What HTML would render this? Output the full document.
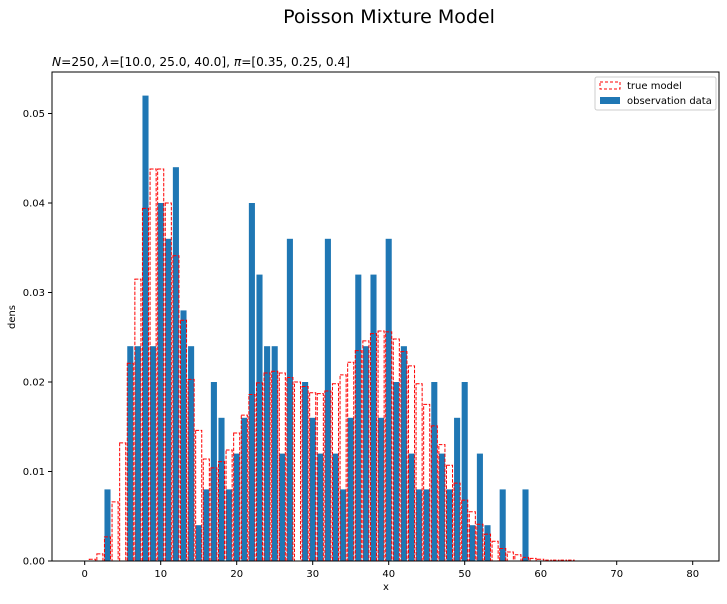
<!DOCTYPE html>
<html>
<head>
<meta charset="utf-8">
<style>
html,body{margin:0;padding:0;background:#fff;}
body{width:727px;height:599px;overflow:hidden;font-family:"Liberation Sans","DejaVu Sans",sans-serif;}
svg text{font-family:"DejaVu Sans","Liberation Sans",sans-serif;}
</style>
</head>
<body>
<svg id="chart" width="727" height="599" xmlns="http://www.w3.org/2000/svg">
  <text x="389" y="23" font-size="19" text-anchor="middle" fill="#000">Poisson Mixture Model</text>
  <text x="52" y="66" font-size="12" fill="#000" textLength="298" lengthAdjust="spacingAndGlyphs"><tspan font-style="italic">N</tspan>=250, <tspan font-style="italic">λ</tspan>=[10.0, 25.0, 40.0], <tspan font-style="italic">π</tspan>=[0.35, 0.25, 0.4]</text>
  <g id="bars"></g>
  <g id="model"></g>
  <rect x="52" y="72" width="667" height="489" fill="none" stroke="#000" stroke-width="1"/>
  <g id="xticks"></g>
  <g id="yticks"></g>
  <text x="386" y="590" font-size="10" text-anchor="middle">x</text>
  <text x="15" y="317" font-size="10" text-anchor="middle" transform="rotate(-90 15 317)">dens</text>
  <g>
    <rect x="595" y="77" width="121" height="33" rx="2" fill="#fff" fill-opacity="0.8" stroke="#ccc"/>
    <rect x="600" y="82" width="20" height="7" fill="none" stroke="red" stroke-dasharray="3,2"/>
    <text x="627" y="89" font-size="10">true model</text>
    <rect x="600" y="97" width="20" height="7" fill="#1f77b4"/>
    <text x="627" y="104" font-size="10">observation data</text>
  </g>
</svg>
<script>
const obsX = [3,6,7,8,9,10,11,12,13,14,15,16,17,18,19,20,21,22,23,24,25,26,27,29,30,31,32,33,34,35,36,37,38,39,40,41,42,43,44,45,46,47,48,49,50,51,52,53,55,58];
const obsY = [0.008,0.024,0.024,0.052,0.024,0.040,0.036,0.044,0.028,0.024,0.004,0.008,0.020,0.016,0.008,0.012,0.016,0.040,0.032,0.024,0.024,0.012,0.036,0.020,0.016,0.012,0.036,0.012,0.008,0.016,0.032,0.024,0.032,0.016,0.036,0.020,0.024,0.012,0.008,0.008,0.020,0.012,0.008,0.016,0.020,0.004,0.012,0.004,0.008,0.008];
const modelX = [1,2,3,4,5,6,7,8,9,10,11,12,13,14,15,16,17,18,19,20,21,22,23,24,25,26,27,28,29,30,31,32,33,34,35,36,37,38,39,40,41,42,43,44,45,46,47,48,49,50,51,52,53,54,55,56,57,58,59,60,61,62,63,64];
const modelY = [0.0002,0.0008,0.0027,0.0066,0.0132,0.0221,0.0315,0.0394,0.0438,0.0438,0.0400,0.0341,0.0269,0.0203,0.0146,0.0114,0.0104,0.0111,0.0124,0.0143,0.0163,0.0186,0.0199,0.0210,0.0212,0.0210,0.0205,0.0200,0.0195,0.0188,0.0187,0.0190,0.0198,0.0208,0.0222,0.0235,0.0246,0.0254,0.0257,0.0256,0.0248,0.0234,0.0218,0.0198,0.0175,0.0151,0.0130,0.0107,0.0087,0.0068,0.0055,0.0041,0.0030,0.0022,0.0014,0.0010,0.0007,0.0004,0.0003,0.0002,0.0001,0.0001,0.0001,0.0001];
const xTicks = [0,10,20,30,40,50,60,70,80];
const yTicks = [0,0.01,0.02,0.03,0.04,0.05];
const yTickLabels = ["0.00","0.01","0.02","0.03","0.04","0.05"];

const NS = "http://www.w3.org/2000/svg";
const X0 = 84.7, XS = 7.6, Y0 = 561, YS = 8950;
function sx(v){ return X0 + v*XS; }
function sy(v){ return Y0 - v*YS; }
const BW = 0.8;

const gb = document.getElementById('bars');
obsX.forEach((x,i)=>{
  const r = document.createElementNS(NS,'rect');
  r.setAttribute('x', sx(x-BW/2)); r.setAttribute('width', BW*XS);
  r.setAttribute('y', sy(obsY[i])); r.setAttribute('height', Y0 - sy(obsY[i]));
  r.setAttribute('fill','#1f77b4');
  
  
  gb.appendChild(r);
});
const gm = document.getElementById('model');
modelX.forEach((x,i)=>{
  const r = document.createElementNS(NS,'rect');
  r.setAttribute('x', sx(x-BW/2)); r.setAttribute('width', BW*XS);
  r.setAttribute('y', sy(modelY[i])); r.setAttribute('height', Y0 - sy(modelY[i]));
  r.setAttribute('fill','none'); r.setAttribute('stroke','red');
  r.setAttribute('stroke-width','1'); r.setAttribute('stroke-dasharray','3.5,1.5');
  
  
  gm.appendChild(r);
});
const gx = document.getElementById('xticks');
xTicks.forEach(t=>{
  const l = document.createElementNS(NS,'line');
  l.setAttribute('x1',sx(t)); l.setAttribute('x2',sx(t));
  l.setAttribute('y1',561); l.setAttribute('y2',565); l.setAttribute('stroke','#000');
  
  
  gx.appendChild(l);
  const tx = document.createElementNS(NS,'text');
  tx.setAttribute('x',sx(t)); tx.setAttribute('y',577); tx.setAttribute('font-size','10');
  tx.setAttribute('text-anchor','middle'); tx.textContent = t;
  
  
  gx.appendChild(tx);
});
const gy = document.getElementById('yticks');
yTicks.forEach((t,i)=>{
  const l = document.createElementNS(NS,'line');
  l.setAttribute('x1',48); l.setAttribute('x2',52);
  l.setAttribute('y1',sy(t)); l.setAttribute('y2',sy(t)); l.setAttribute('stroke','#000');
  
  
  gy.appendChild(l);
  const tx = document.createElementNS(NS,'text');
  tx.setAttribute('x',45); tx.setAttribute('y',sy(t)+3.5); tx.setAttribute('font-size','10');
  tx.setAttribute('text-anchor','end'); tx.textContent = yTickLabels[i];
  
  
  gy.appendChild(tx);
});
</script>
</body>
</html>
